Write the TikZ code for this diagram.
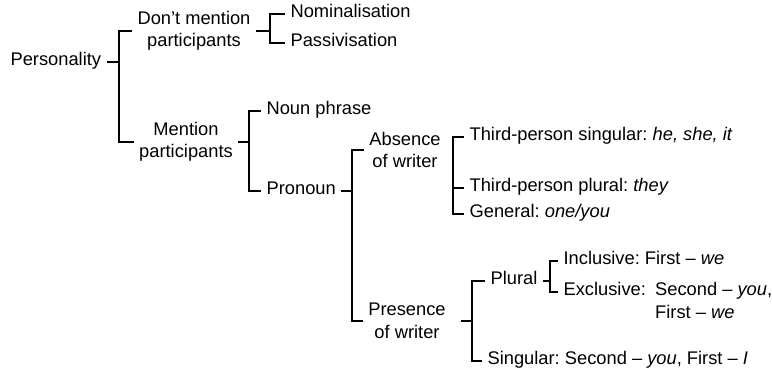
\documentclass[tikz,border=0pt]{standalone}
\usepackage{fontspec}
\setmainfont{Liberation Sans}
\usetikzlibrary{positioning}
\frenchspacing
\tikzset{
  leaf/.style={anchor=west, inner xsep=5pt, inner ysep=1pt, text height=0.716em, text depth=0pt},
  branch/.style={align=center, inner xsep=5pt, inner ysep=1pt},
}
\begin{document}
\begin{tikzpicture}[x=1pt, y=-1pt, line width=1.2pt, font=\fontsize{18.3}{22.5}\selectfont]
    \useasboundingbox (0,0) rectangle (772,374);

    % Root and first split
    \node[leaf] (pers) at (5,62) {Personality};
    \node[branch] (dont) at (194,31) {Don’t mention\\participants};
    \node[branch] (ment) at (186,142) {Mention\\participants};

    % Not mentioned
    \node[leaf] (nom) at (285,14) {Nominalisation};
    \node[leaf] (pas) at (285,43) {Passivisation};

    % Mentioned
    \node[leaf] (noun) at (261,111) {Noun phrase};
    \node[leaf] (pron) at (261,191) {Pronoun};

    % Pronoun split
    \node[branch] (abs) at (405,150) {Absence\\of writer};
    \node[branch] (pres) at (407,321) {Presence\\of writer};

    % Absence of writer
    \node[leaf] (tsing) at (464,137) {Third-person singular: \textit{he, she, it}};
    \node[leaf] (tplu) at (464,188) {Third-person plural: \textit{they}};
    \node[leaf] (gen) at (464,214) {General: \textit{one/you}};

    % Presence of writer
    \node[leaf] (plur) at (485,281) {Plural};
    \node[leaf] (incl) at (558,261) {Inclusive: First -- \textit{we}};
    \node[leaf] (excl) at (558,292) {Exclusive:};
    \node[leaf, right=-2pt of excl] (exsec) {Second -- \textit{you},};
    \node[leaf] (exfirst) at ([yshift=-23pt]exsec.west) {First -- \textit{we}};
    \node[leaf] (sing) at (482,361) {Singular: Second -- \textit{you}, First -- \textit{I}};

    % Bracket junctions
    \coordinate (jpers) at (119,62);
    \coordinate (jdont) at (270,31);
    \coordinate (jment) at (249,142);
    \coordinate (jpron) at (352,191);
    \coordinate (jabs) at (453,188);
    \coordinate (jpres) at (472,321);
    \coordinate (jplur) at (550,281);

    % Brackets
    \draw (pers.east) -- (jpers);
    \draw (dont.west) -| (jpers) |- (ment.west);
    \draw (dont.east) -- (jdont);
    \draw (nom.west) -| (jdont) |- (pas.west);
    \draw (ment.east) -- (jment);
    \draw (noun.west) -| (jment) |- (pron.west);
    \draw (pron.east) -- (jpron);
    \draw (abs.west) -| (jpron) |- (pres.west);
    \draw (tsing.west) -| (jabs) |- (gen.west);
    \draw (jabs) -- (tplu.west);
    \draw[shorten <=10pt] (pres.east) -- (jpres);
    \draw (plur.west) -| (jpres) |- (sing.west);
    \draw (plur.east) -- (jplur);
    \draw (incl.west) -| (jplur) |- (excl.west);
\end{tikzpicture}
\end{document}
